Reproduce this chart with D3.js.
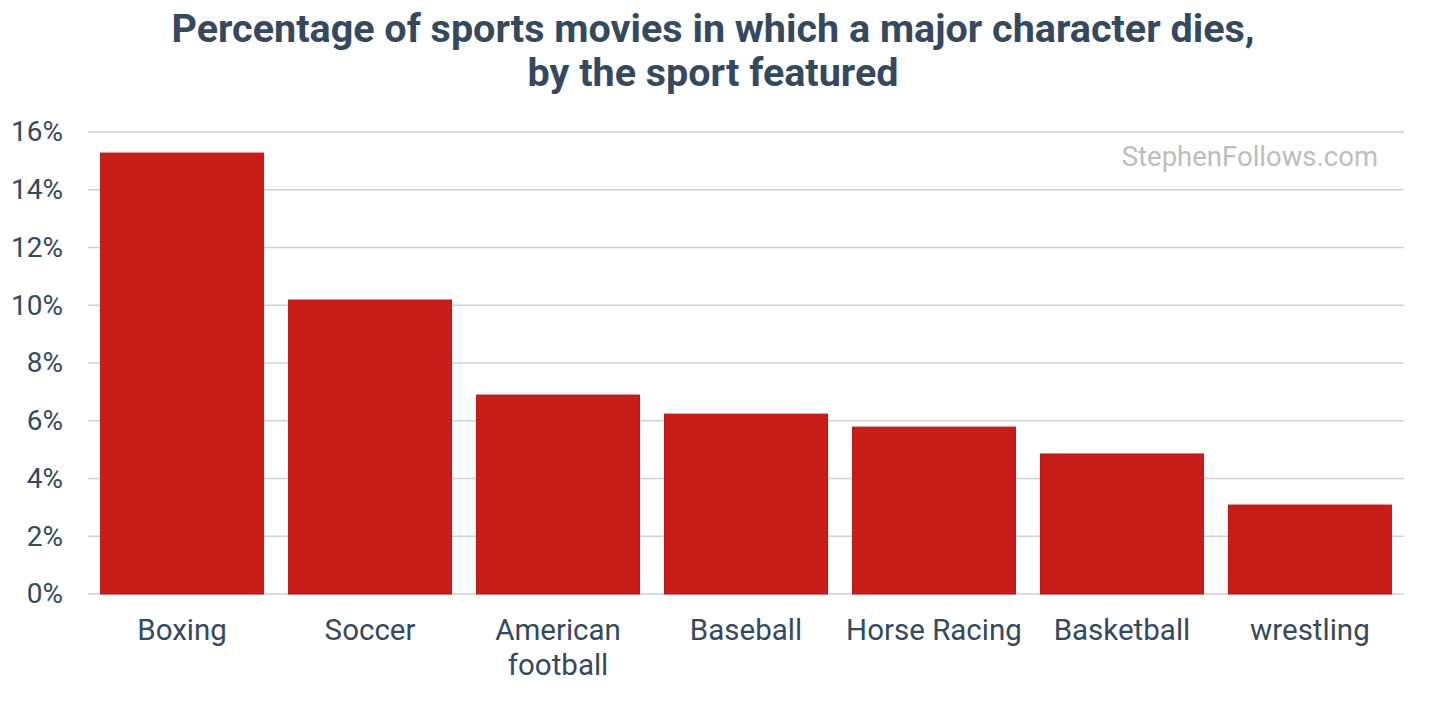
<!DOCTYPE html>
<html>
<head>
<meta charset="utf-8">
<script src="https://cdn.jsdelivr.net/npm/d3@7"></script>
<style>
  body { margin: 0; background: #fff; }
  text { font-family: Roboto, "Noto Sans", sans-serif; }
</style>
</head>
<body>
<div id="chart"></div>
<script>
// chart data
const sports = ["Boxing", "Soccer", "American football", "Baseball", "Horse Racing", "Basketball", "wrestling"];
const deathShare = [15.27, 10.18, 6.89, 6.23, 5.78, 4.85, 3.08];
const yTicks = [0, 2, 4, 6, 8, 10, 12, 14, 16];

const svgWidth = 1456;
const svgHeight = 703;

const margin = { top: 132, right: 52, bottom: 109, left: 88 };
const width = svgWidth - margin.left - margin.right;
const height = svgHeight - margin.top - margin.bottom;

const svg = d3.select("#chart")
  .append("svg")
  .attr("width", svgWidth)
  .attr("height", svgHeight);

// title
const title = svg.append("text")
  .attr("x", 713)
  .attr("y", 42)
  .attr("text-anchor", "middle")
  .attr("font-size", "39.5px")
  .attr("font-weight", "bold")
  .attr("fill", "#34495e");
title.append("tspan").attr("x", 713).text("Percentage of sports movies in which a major character dies,");
title.append("tspan").attr("x", 713).attr("dy", 44).text("by the sport featured");

const chartGroup = svg.append("g")
  .attr("transform", `translate(${margin.left}, ${margin.top})`);

const x = d3.scaleBand()
  .domain(sports)
  .range([0, width])
  .paddingInner(0.133)
  .paddingOuter(0.067);

const y = d3.scaleLinear()
  .domain([0, 16])
  .range([height, 0]);

// gridlines
chartGroup.selectAll("line.grid")
  .data(yTicks)
  .enter()
  .append("line")
  .classed("grid", true)
  .attr("x1", 0)
  .attr("x2", width)
  .attr("y1", d => y(d))
  .attr("y2", d => y(d))
  .attr("stroke", "#d0d0d0")
  .attr("stroke-width", 1.5);

// y tick labels
const leftAxis = d3.axisLeft(y).tickValues(yTicks).tickSize(0).tickPadding(25).tickFormat(d => d + "%");
chartGroup.append("g")
  .call(leftAxis)
  .call(g => g.select(".domain").remove())
  .selectAll("text")
  .attr("font-family", "Roboto, sans-serif")
  .attr("font-size", "28px")
  .attr("fill", "#34495e");

// bars
chartGroup.selectAll("rect.bar")
  .data(sports)
  .enter()
  .append("rect")
  .classed("bar", true)
  .attr("x", d => x(d))
  .attr("width", x.bandwidth())
  .attr("y", (d, i) => y(deathShare[i]))
  .attr("height", (d, i) => height - y(deathShare[i]))
  .attr("fill", "#c81c19")
  .attr("stroke", "#bb1616")
  .attr("stroke-width", 1);

// category labels, wrapped
const catLabels = chartGroup.selectAll("text.cat")
  .data(sports)
  .enter()
  .append("text")
  .classed("cat", true)
  .attr("x", d => x(d) + x.bandwidth() / 2)
  .attr("y", height + 46)
  .attr("text-anchor", "middle")
  .attr("font-size", "29.5px")
  .attr("fill", "#34495e");

catLabels.each(function(d) {
  const words = d === "American football" ? ["American", "football"] : [d];
  const t = d3.select(this);
  words.forEach((w, i) => {
    t.append("tspan")
      .attr("x", x(d) + x.bandwidth() / 2)
      .attr("dy", i === 0 ? 0 : 35)
      .text(w);
  });
});

// watermark
svg.append("text")
  .attr("x", 1378)
  .attr("y", 166)
  .attr("text-anchor", "end")
  .attr("font-size", "27.5px")
  .attr("fill", "#bdbdbd")
  .text("StephenFollows.com");
</script>
</body>
</html>
